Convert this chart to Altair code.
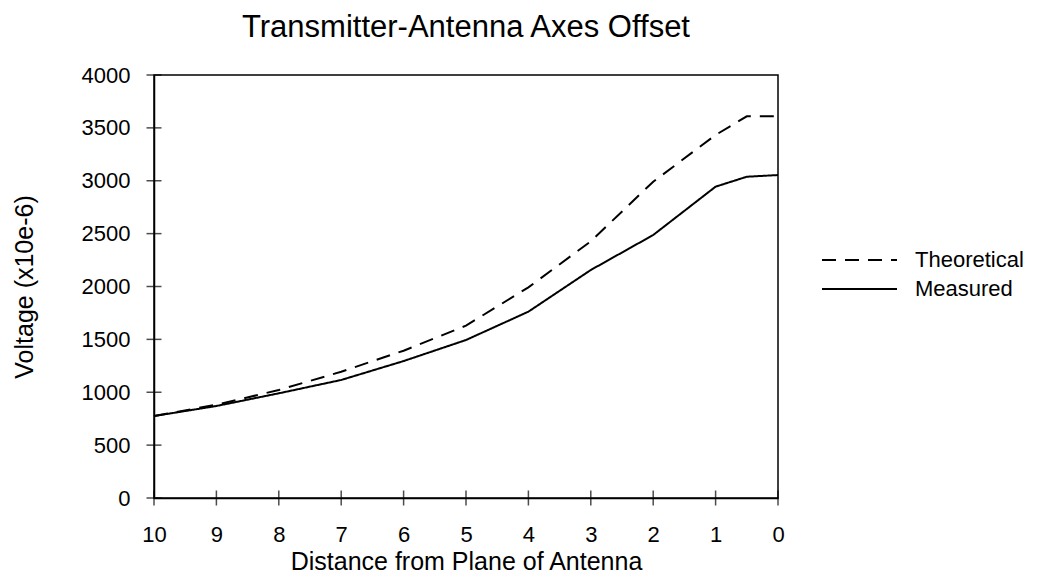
import altair as alt
import pandas as pd

distance = [10, 9, 8, 7, 6, 5, 4, 3, 2, 1, 0.5, 0]
theoretical = [775, 882, 1021, 1194, 1393, 1630, 1992, 2427, 2991, 3433, 3609, 3609]
measured = [775, 870, 990, 1116, 1295, 1494, 1762, 2156, 2487, 2944, 3038, 3054]
series_names = ["Theoretical", "Measured"]
x_ticks = [0, 1, 2, 3, 4, 5, 6, 7, 8, 9, 10]
y_ticks = [0, 500, 1000, 1500, 2000, 2500, 3000, 3500, 4000]

rows = []
for d, t, m in zip(distance, theoretical, measured):
    rows.append({"distance": d, "voltage": t, "series": "Theoretical"})
    rows.append({"distance": d, "voltage": m, "series": "Measured"})
df = pd.DataFrame(rows)
xt_df = pd.DataFrame({"distance": x_ticks, "voltage": [0] * len(x_ticks)})
yt_df = pd.DataFrame({"voltage": y_ticks, "distance": [10] * len(y_ticks)})

FONT = "Liberation Sans"
DASH = [14, 9]
xscale = alt.Scale(domain=[10, 0], nice=False, zero=False)
yscale = alt.Scale(domain=[0, 4000], nice=False)
xaxis = alt.Axis(values=x_ticks, title="Distance from Plane of Antenna",
                 ticks=False, labelPadding=26, titlePadding=4, labelFlush=False,
                 labelFontSize=22, titleFontSize=25, format="d")
yaxis = alt.Axis(values=y_ticks, title="Voltage (x10e-6)",
                 ticks=False, labelPadding=24, titlePadding=44,
                 labelFontSize=22, titleFontSize=25, format="d")

lines = alt.Chart(df).mark_line(color="black", strokeWidth=2).encode(
    x=alt.X("distance:Q", scale=xscale, axis=xaxis),
    y=alt.Y("voltage:Q", scale=yscale, axis=yaxis),
    strokeDash=alt.StrokeDash("series:N",
                              scale=alt.Scale(domain=series_names, range=[DASH, [1, 0]]),
                              legend=None),
    order=alt.Order("distance:Q", sort="descending"),
)

xt = alt.Chart(xt_df).mark_tick(orient="vertical", size=15, thickness=1.5, color="black").encode(
    x=alt.X("distance:Q", scale=xscale, axis=xaxis),
    y=alt.Y("voltage:Q", scale=yscale, axis=yaxis),
)
yt = alt.Chart(yt_df).mark_tick(orient="horizontal", size=15, thickness=1.5, color="black").encode(
    x=alt.X("distance:Q", scale=xscale, axis=xaxis),
    y=alt.Y("voltage:Q", scale=yscale, axis=yaxis),
)

# manual legend, placed to the right of the plot area
leg_rows = [(series_names[0], DASH, 185), (series_names[1], [1, 0], 214)]
legend_layers = []
for name, dash, ypos in leg_rows:
    one = pd.DataFrame({"series": [name]})
    legend_layers.append(
        alt.Chart(one).mark_rule(color="black", strokeWidth=2, strokeDash=dash).encode(
            x=alt.value(668), x2=alt.value(743), y=alt.value(ypos))
    )
    legend_layers.append(
        alt.Chart(one).mark_text(font=FONT, fontSize=22, align="left", baseline="middle",
                                 color="black").encode(
            x=alt.value(761), y=alt.value(ypos), text="series:N")
    )

chart = alt.layer(lines, xt, yt, *legend_layers).properties(
    width=624, height=423,
    background="white",
    title=alt.TitleParams("Transmitter-Antenna Axes Offset", fontSize=31, font=FONT,
                          fontWeight="normal", anchor="middle", offset=20, color="black"),
    autosize=alt.AutoSizeParams(type="none"),
    padding={"left": 146, "top": 67, "right": 264, "bottom": 79},
).configure_view(stroke="black", strokeWidth=1.5).configure_axis(
    domainColor="black", domainWidth=1.5, labelColor="black", titleColor="black",
    labelFont=FONT, titleFont=FONT, titleFontWeight="normal", grid=False,
)

chart.save("out.html", embed_options={"renderer": "svg", "actions": False})
